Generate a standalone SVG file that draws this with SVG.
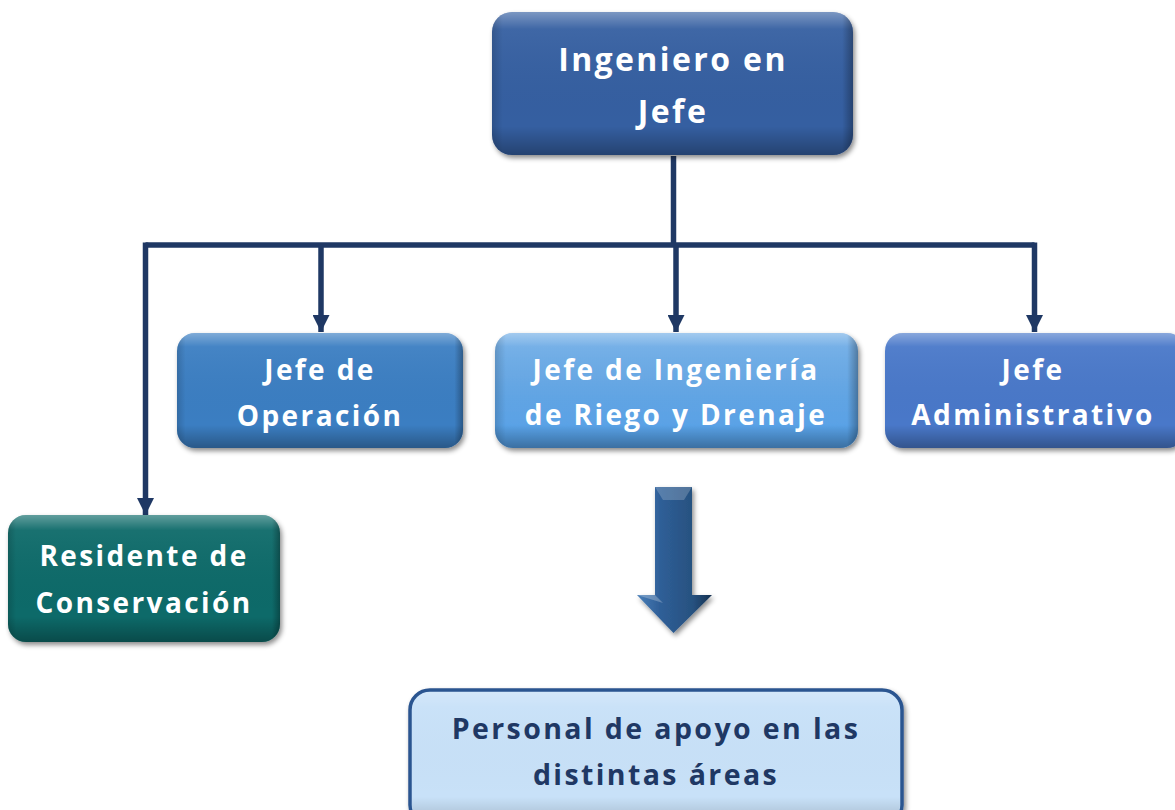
<svg xmlns="http://www.w3.org/2000/svg" width="1175" height="810" viewBox="0 0 1175 810">
<defs>
  <filter id="sh" x="-10%" y="-10%" width="125%" height="130%">
    <feDropShadow dx="2" dy="3" stdDeviation="2.5" flood-color="#000" flood-opacity="0.45"/>
  </filter>
  <linearGradient id="bevel" x1="0" y1="0" x2="0" y2="1">
    <stop offset="0" stop-color="#fff" stop-opacity="0.35"/>
    <stop offset="0.12" stop-color="#fff" stop-opacity="0.05"/>
    <stop offset="0.8" stop-color="#000" stop-opacity="0"/>
    <stop offset="1" stop-color="#000" stop-opacity="0.3"/>
  </linearGradient>
  <linearGradient id="bevelX" x1="0" y1="0" x2="1" y2="0">
    <stop offset="0" stop-color="#000" stop-opacity="0.15"/>
    <stop offset="0.03" stop-color="#000" stop-opacity="0"/>
    <stop offset="0.97" stop-color="#000" stop-opacity="0"/>
    <stop offset="1" stop-color="#000" stop-opacity="0.3"/>
  </linearGradient>
  <linearGradient id="gIng" x1="0" y1="0" x2="0" y2="1">
    <stop offset="0" stop-color="#72aee6"/>
    <stop offset="1" stop-color="#549fe6"/>
  </linearGradient>
  <linearGradient id="gArrow" x1="0" y1="0" x2="1" y2="0">
    <stop offset="0" stop-color="#4a7fb8"/>
    <stop offset="0.3" stop-color="#2f5f98"/>
    <stop offset="0.75" stop-color="#27517f"/>
    <stop offset="1" stop-color="#13304f"/>
  </linearGradient>
  <marker id="ah" viewBox="0 0 17 17" refX="17" refY="8.5" markerWidth="17" markerHeight="17" markerUnits="userSpaceOnUse" orient="auto">
    <path d="M0,0 L17,8.5 L0,17 Z" fill="#1f3864"/>
  </marker>
  <style>
    .t { font-family: "Open Sans", "Liberation Sans", sans-serif; font-weight: bold; fill: #ffffff; text-anchor: middle; letter-spacing: 2.4px; }
    .big { font-size: 32px; }
    .mid { font-size: 28px; }
    .dark { fill: #1f3864; font-size: 28.5px; }
    .ln { stroke: #1f3864; stroke-width: 5.5; fill: none; }
    .bv { fill: url(#bevel); }
    .bx { fill: url(#bevelX); }
  </style>
</defs>
<rect width="1175" height="810" fill="#ffffff"/>

<g id="connectors">
  <path class="ln" d="M673.5,156 V245"/>
  <path class="ln" d="M145.5,245 H1034.5"/>
  <path class="ln" d="M145.5,242.5 V515" marker-end="url(#ah)"/>
  <path class="ln" d="M321,245 V332" marker-end="url(#ah)"/>
  <path class="ln" d="M676,245 V332" marker-end="url(#ah)"/>
  <path class="ln" d="M1034.5,242.5 V332" marker-end="url(#ah)"/>
  <g id="big-arrow" filter="url(#sh)">
    <path d="M655,487 H692 V595 H712 L673.5,633 L637,595 H655 Z" fill="url(#gArrow)"/>
    <path d="M655,487 H692 L684,500 H663 Z" fill="#ffffff" fill-opacity="0.2"/>
    <path d="M637,595 H655 L663,603 Z" fill="#ffffff" fill-opacity="0.25"/>
  </g>
</g>

<g id="node-ingeniero">
  <rect x="492" y="12" width="361" height="143" rx="20" fill="#365fa1" filter="url(#sh)"/>
  <rect x="492" y="12" width="361" height="143" rx="20" class="bv"/>
  <rect x="492" y="12" width="361" height="143" rx="20" class="bx"/>
  <text class="t big" x="673" y="71">Ingeniero en</text>
  <text class="t big" x="673" y="123">Jefe</text>
</g>

<g id="node-operacion">
  <rect x="177" y="333" width="286" height="115" rx="18" fill="#3a7ec2" filter="url(#sh)"/>
  <rect x="177" y="333" width="286" height="115" rx="18" class="bv"/>
  <rect x="177" y="333" width="286" height="115" rx="18" class="bx"/>
  <text class="t mid" x="320" y="380">Jefe de</text>
  <text class="t mid" x="320" y="426">Operación</text>
</g>

<g id="node-ingenieria">
  <rect x="495" y="333" width="363" height="115" rx="18" fill="url(#gIng)" filter="url(#sh)"/>
  <rect x="495" y="333" width="363" height="115" rx="18" class="bv"/>
  <rect x="495" y="333" width="363" height="115" rx="18" class="bx"/>
  <text class="t mid" x="676" y="380">Jefe de Ingeniería</text>
  <text class="t mid" x="676" y="425">de Riego y Drenaje</text>
</g>

<g id="node-administrativo">
  <rect x="885" y="333" width="300" height="115" rx="18" fill="#4a78c9" filter="url(#sh)"/>
  <rect x="885" y="333" width="300" height="115" rx="18" class="bv"/>
  <text class="t mid" x="1033" y="380">Jefe</text>
  <text class="t mid" x="1033" y="425">Administrativo</text>
</g>

<g id="node-residente">
  <rect x="8" y="515" width="272" height="127" rx="18" fill="#0d6b69" filter="url(#sh)"/>
  <rect x="8" y="515" width="272" height="127" rx="18" class="bv"/>
  <rect x="8" y="515" width="272" height="127" rx="18" class="bx"/>
  <text class="t mid" x="144" y="566">Residente de</text>
  <text class="t mid" x="144" y="613">Conservación</text>
</g>

<g id="node-personal">
  <rect x="410" y="690" width="492" height="135" rx="20" fill="#c8e1f8" stroke="#2b5590" stroke-width="3.5" filter="url(#sh)"/>
  <rect x="412" y="692" width="488" height="131" rx="18" class="bv" opacity="0.6"/>
  <text class="t dark" x="656" y="739">Personal de apoyo en las</text>
  <text class="t dark" x="656" y="785">distintas áreas</text>
</g>
</svg>
